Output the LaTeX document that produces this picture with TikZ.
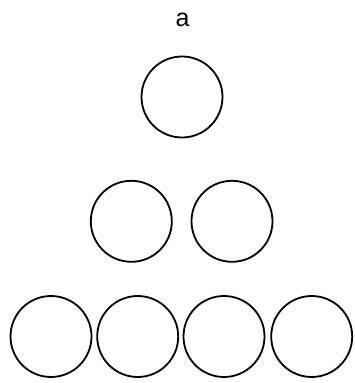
\documentclass[tikz,border=0pt]{standalone}
\usepackage{fontspec}
\setmainfont{Liberation Sans}
\usetikzlibrary{calc}

\begin{document}
\begin{tikzpicture}[x=1pt,y=1pt,
  ball/.style={draw,circle,line width=1.8pt,minimum size=81pt,inner sep=0pt}]
  \useasboundingbox (0,0) rectangle (354,383);
  \node[font=\fontsize{25}{30}\selectfont] (L) at (182.5,363) {a};
  \node[ball] (N0) at (182,286) {};
  \node[ball] (N1) at ($(N0)+(-50.7,-124.3)$) {};
  \node[ball] (N2) at ($(N1)+(100.7,0)$) {};
  \node[ball] (N3) at (51,46.5) {};
  \node[ball] (N4) at ($(N3)+(86.7,0)$) {};
  \node[ball] (N5) at ($(N4)+(86.3,0)$) {};
  \node[ball] (N6) at ($(N5)+(87.7,0)$) {};
\end{tikzpicture}
\end{document}
